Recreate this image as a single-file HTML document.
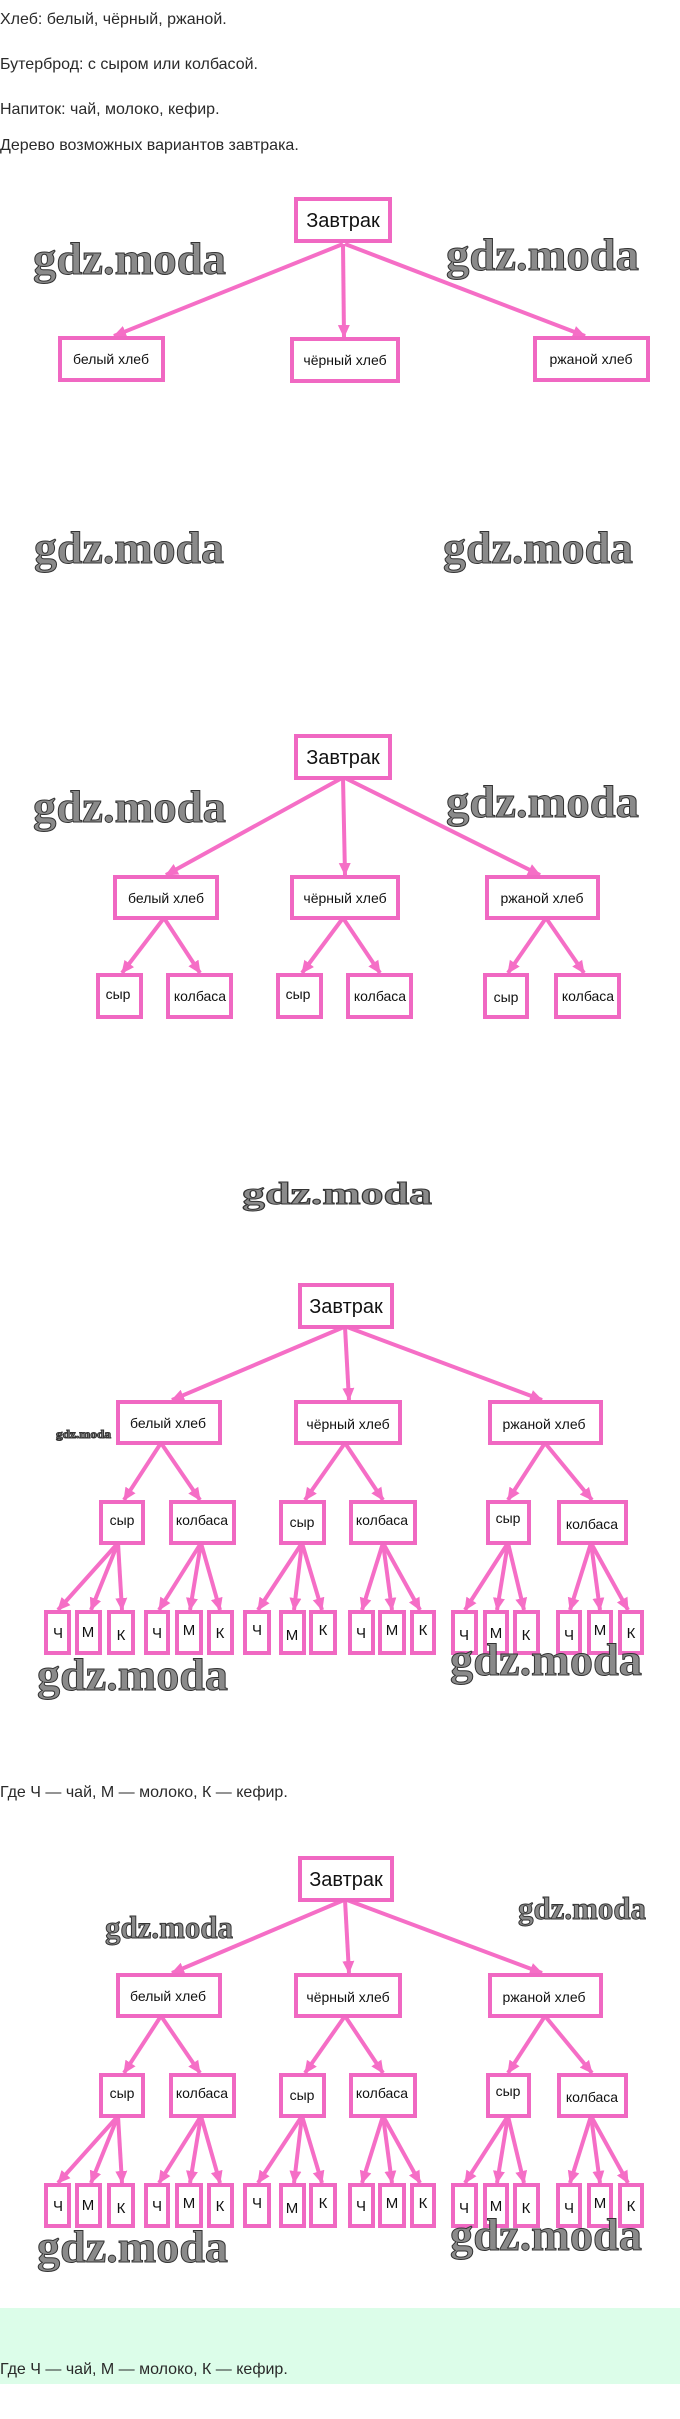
<!DOCTYPE html>
<html><head><meta charset="utf-8"><style>
html,body{margin:0;padding:0;background:#fff;}
svg{display:block;}
.t{font-family:"Liberation Sans","Noto Sans CJK SC",sans-serif;font-size:16px;fill:#2a2a2a;}
.b{font-family:"Liberation Sans","Noto Sans CJK SC",sans-serif;font-size:14px;fill:#111;text-anchor:middle;}
.r{font-family:"Liberation Sans","Noto Sans CJK SC",sans-serif;font-size:20px;fill:#111;text-anchor:middle;}
.l{font-family:"Liberation Sans","Noto Sans CJK SC",sans-serif;font-size:15px;fill:#111;text-anchor:middle;}
.w{font-family:"Liberation Serif",serif;font-weight:bold;fill:#8a8a8a;stroke:#333;stroke-width:1;}
rect.x{fill:#fff;stroke:#f068c2;stroke-width:4;}
line{stroke:#f56ec6;stroke-width:4;marker-end:url(#a);}
</style></head><body>
<svg width="680" height="2419" viewBox="0 0 680 2419" xmlns="http://www.w3.org/2000/svg">
<defs><marker id="a" markerWidth="14" markerHeight="14" refX="12" refY="7" orient="auto" markerUnits="userSpaceOnUse"><path d="M0,1 L13,7 L0,13 z" fill="#f56ec6"/></marker></defs>

<text class="t" x="0" y="24">Хлеб: белый, чёрный, ржаной.</text>
<text class="t" x="0" y="69">Бутерброд: с сыром или колбасой.</text>
<text class="t" x="0" y="114">Напиток: чай, молоко, кефир.</text>
<text class="t" x="0" y="150">Дерево возможных вариантов завтрака.</text>

<!-- Diagram 1 -->
<text class="w" x="33" y="274" font-size="46" textLength="193" lengthAdjust="spacingAndGlyphs">gdz.moda</text>
<text class="w" x="446" y="270" font-size="46" textLength="193" lengthAdjust="spacingAndGlyphs">gdz.moda</text>
<line x1="343" y1="244" x2="114" y2="336"/>
<line x1="343" y1="244" x2="344" y2="337"/>
<line x1="345" y1="244" x2="585" y2="336"/>
<rect class="x" x="296" y="199" width="94" height="42"/><text class="r" x="343" y="227">Завтрак</text>
<rect class="x" x="60" y="338" width="103" height="42"/><text class="b" x="111" y="364">белый хлеб</text>
<rect class="x" x="292" y="339" width="106" height="42"/><text class="b" x="345" y="365">чёрный хлеб</text>
<rect class="x" x="535" y="338" width="113" height="42"/><text class="b" x="591" y="364">ржаной хлеб</text>

<text class="w" x="34" y="563" font-size="46" textLength="190" lengthAdjust="spacingAndGlyphs">gdz.moda</text>
<text class="w" x="443" y="563" font-size="46" textLength="190" lengthAdjust="spacingAndGlyphs">gdz.moda</text>

<!-- Diagram 2 -->
<text class="w" x="33" y="822" font-size="46" textLength="193" lengthAdjust="spacingAndGlyphs">gdz.moda</text>
<text class="w" x="446" y="817" font-size="46" textLength="193" lengthAdjust="spacingAndGlyphs">gdz.moda</text>
<line x1="342" y1="778" x2="166" y2="875"/>
<line x1="343" y1="778" x2="345" y2="875"/>
<line x1="345" y1="778" x2="540" y2="875"/>
<line x1="164" y1="918" x2="122" y2="973"/>
<line x1="164" y1="918" x2="200" y2="973"/>
<line x1="343" y1="918" x2="302" y2="973"/>
<line x1="343" y1="918" x2="380" y2="973"/>
<line x1="546" y1="918" x2="508" y2="973"/>
<line x1="546" y1="918" x2="584" y2="973"/>
<rect class="x" x="296" y="736" width="94" height="42"/><text class="r" x="343" y="764">Завтрак</text>
<rect class="x" x="115" y="877" width="102" height="41"/><text class="b" x="166" y="903">белый хлеб</text>
<rect class="x" x="292" y="877" width="106" height="41"/><text class="b" x="345" y="903">чёрный хлеб</text>
<rect class="x" x="487" y="877" width="111" height="41"/><text class="b" x="542" y="903">ржаной хлеб</text>
<rect class="x" x="98" y="975" width="43" height="42"/><text class="b" x="118" y="999">сыр</text>
<rect class="x" x="168" y="975" width="63" height="42"/><text class="b" x="200" y="1001">колбаса</text>
<rect class="x" x="278" y="975" width="43" height="42"/><text class="b" x="298" y="999">сыр</text>
<rect class="x" x="348" y="975" width="63" height="42"/><text class="b" x="380" y="1001">колбаса</text>
<rect class="x" x="485" y="975" width="42" height="42"/><text class="b" x="506" y="1002">сыр</text>
<rect class="x" x="556" y="975" width="63" height="42"/><text class="b" x="588" y="1001">колбаса</text>

<text class="w" x="242" y="1204" font-size="32" textLength="190" lengthAdjust="spacingAndGlyphs">gdz.moda</text>

<!-- Diagram 3 & 4 shared -->
<g id="d3">
<line x1="344" y1="1327" x2="172" y2="1400"/>
<line x1="345" y1="1327" x2="349" y2="1400"/>
<line x1="347" y1="1327" x2="542" y2="1400"/>
<line x1="161" y1="1443" x2="124" y2="1500"/>
<line x1="161" y1="1443" x2="200" y2="1500"/>
<line x1="345" y1="1443" x2="305" y2="1500"/>
<line x1="345" y1="1443" x2="383" y2="1500"/>
<line x1="545" y1="1443" x2="508" y2="1500"/>
<line x1="545" y1="1443" x2="592" y2="1500"/>
<line x1="118" y1="1543" x2="58" y2="1610"/>
<line x1="118" y1="1543" x2="91" y2="1610"/>
<line x1="118" y1="1543" x2="122" y2="1610"/>
<line x1="201" y1="1543" x2="159" y2="1610"/>
<line x1="201" y1="1543" x2="190" y2="1610"/>
<line x1="201" y1="1543" x2="220" y2="1610"/>
<line x1="302" y1="1543" x2="258" y2="1610"/>
<line x1="302" y1="1543" x2="294" y2="1610"/>
<line x1="302" y1="1543" x2="322" y2="1610"/>
<line x1="383" y1="1543" x2="362" y2="1610"/>
<line x1="383" y1="1543" x2="392" y2="1610"/>
<line x1="383" y1="1543" x2="420" y2="1610"/>
<line x1="508" y1="1543" x2="465" y2="1610"/>
<line x1="508" y1="1543" x2="497" y2="1610"/>
<line x1="508" y1="1543" x2="524" y2="1610"/>
<line x1="591" y1="1543" x2="570" y2="1610"/>
<line x1="591" y1="1543" x2="600" y2="1610"/>
<line x1="591" y1="1543" x2="628" y2="1610"/>
<rect class="x" x="300" y="1285" width="92" height="42"/><text class="r" x="346" y="1313">Завтрак</text>
<rect class="x" x="118" y="1402" width="102" height="41"/><text class="b" x="168" y="1428">белый хлеб</text>
<rect class="x" x="296" y="1402" width="104" height="41"/><text class="b" x="348" y="1429">чёрный хлеб</text>
<rect class="x" x="490" y="1402" width="111" height="41"/><text class="b" x="544" y="1429">ржаной хлеб</text>
<rect class="x" x="101" y="1502" width="42" height="41"/><text class="b" x="122" y="1525">сыр</text>
<rect class="x" x="171" y="1502" width="63" height="41"/><text class="b" x="202" y="1525">колбаса</text>
<rect class="x" x="281" y="1502" width="43" height="41"/><text class="b" x="302" y="1527">сыр</text>
<rect class="x" x="351" y="1502" width="64" height="41"/><text class="b" x="382" y="1525">колбаса</text>
<rect class="x" x="488" y="1502" width="41" height="41"/><text class="b" x="508" y="1523">сыр</text>
<rect class="x" x="559" y="1502" width="67" height="41"/><text class="b" x="592" y="1529">колбаса</text>
<rect class="x" x="46" y="1612" width="23" height="41"/><text class="l" x="58" y="1638">Ч</text>
<rect class="x" x="77" y="1612" width="23" height="41"/><text class="l" x="88" y="1637">М</text>
<rect class="x" x="109" y="1612" width="24" height="41"/><text class="l" x="121" y="1640">К</text>
<rect class="x" x="146" y="1612" width="22" height="41"/><text class="l" x="157" y="1638">Ч</text>
<rect class="x" x="177" y="1612" width="24" height="41"/><text class="l" x="189" y="1635">М</text>
<rect class="x" x="209" y="1612" width="23" height="41"/><text class="l" x="220" y="1638">К</text>
<rect class="x" x="245" y="1612" width="24" height="41"/><text class="l" x="257" y="1635">Ч</text>
<rect class="x" x="281" y="1612" width="23" height="41"/><text class="l" x="292" y="1640">М</text>
<rect class="x" x="311" y="1612" width="24" height="41"/><text class="l" x="323" y="1635">К</text>
<rect class="x" x="350" y="1612" width="23" height="41"/><text class="l" x="361" y="1638">Ч</text>
<rect class="x" x="380" y="1612" width="24" height="41"/><text class="l" x="392" y="1635">М</text>
<rect class="x" x="412" y="1612" width="22" height="41"/><text class="l" x="423" y="1635">К</text>
<rect class="x" x="453" y="1612" width="23" height="41"/><text class="l" x="464" y="1640">Ч</text>
<rect class="x" x="485" y="1612" width="22" height="41"/><text class="l" x="496" y="1638">М</text>
<rect class="x" x="515" y="1612" width="23" height="41"/><text class="l" x="526" y="1640">К</text>
<rect class="x" x="558" y="1612" width="22" height="41"/><text class="l" x="569" y="1640">Ч</text>
<rect class="x" x="589" y="1612" width="22" height="41"/><text class="l" x="600" y="1635">М</text>
<rect class="x" x="620" y="1612" width="22" height="41"/><text class="l" x="631" y="1638">К</text>
</g>
<text class="w" x="56" y="1438" font-size="12" stroke="none" textLength="55" lengthAdjust="spacingAndGlyphs">gdz.moda</text>
<text class="w" x="37" y="1690" font-size="46" textLength="191" lengthAdjust="spacingAndGlyphs">gdz.moda</text>
<text class="w" x="450" y="1675" font-size="46" textLength="192" lengthAdjust="spacingAndGlyphs">gdz.moda</text>

<text class="t" x="0" y="1797">Где Ч — чай, М — молоко, К — кефир.</text>

<g transform="translate(0,573)">
<line x1="344" y1="1327" x2="172" y2="1400"/>
<line x1="345" y1="1327" x2="349" y2="1400"/>
<line x1="347" y1="1327" x2="542" y2="1400"/>
<line x1="161" y1="1443" x2="124" y2="1500"/>
<line x1="161" y1="1443" x2="200" y2="1500"/>
<line x1="345" y1="1443" x2="305" y2="1500"/>
<line x1="345" y1="1443" x2="383" y2="1500"/>
<line x1="545" y1="1443" x2="508" y2="1500"/>
<line x1="545" y1="1443" x2="592" y2="1500"/>
<line x1="118" y1="1543" x2="58" y2="1610"/>
<line x1="118" y1="1543" x2="91" y2="1610"/>
<line x1="118" y1="1543" x2="122" y2="1610"/>
<line x1="201" y1="1543" x2="159" y2="1610"/>
<line x1="201" y1="1543" x2="190" y2="1610"/>
<line x1="201" y1="1543" x2="220" y2="1610"/>
<line x1="302" y1="1543" x2="258" y2="1610"/>
<line x1="302" y1="1543" x2="294" y2="1610"/>
<line x1="302" y1="1543" x2="322" y2="1610"/>
<line x1="383" y1="1543" x2="362" y2="1610"/>
<line x1="383" y1="1543" x2="392" y2="1610"/>
<line x1="383" y1="1543" x2="420" y2="1610"/>
<line x1="508" y1="1543" x2="465" y2="1610"/>
<line x1="508" y1="1543" x2="497" y2="1610"/>
<line x1="508" y1="1543" x2="524" y2="1610"/>
<line x1="591" y1="1543" x2="570" y2="1610"/>
<line x1="591" y1="1543" x2="600" y2="1610"/>
<line x1="591" y1="1543" x2="628" y2="1610"/>
<rect class="x" x="300" y="1285" width="92" height="42"/><text class="r" x="346" y="1313">Завтрак</text>
<rect class="x" x="118" y="1402" width="102" height="41"/><text class="b" x="168" y="1428">белый хлеб</text>
<rect class="x" x="296" y="1402" width="104" height="41"/><text class="b" x="348" y="1429">чёрный хлеб</text>
<rect class="x" x="490" y="1402" width="111" height="41"/><text class="b" x="544" y="1429">ржаной хлеб</text>
<rect class="x" x="101" y="1502" width="42" height="41"/><text class="b" x="122" y="1525">сыр</text>
<rect class="x" x="171" y="1502" width="63" height="41"/><text class="b" x="202" y="1525">колбаса</text>
<rect class="x" x="281" y="1502" width="43" height="41"/><text class="b" x="302" y="1527">сыр</text>
<rect class="x" x="351" y="1502" width="64" height="41"/><text class="b" x="382" y="1525">колбаса</text>
<rect class="x" x="488" y="1502" width="41" height="41"/><text class="b" x="508" y="1523">сыр</text>
<rect class="x" x="559" y="1502" width="67" height="41"/><text class="b" x="592" y="1529">колбаса</text>
<rect class="x" x="46" y="1612" width="23" height="41"/><text class="l" x="58" y="1638">Ч</text>
<rect class="x" x="77" y="1612" width="23" height="41"/><text class="l" x="88" y="1637">М</text>
<rect class="x" x="109" y="1612" width="24" height="41"/><text class="l" x="121" y="1640">К</text>
<rect class="x" x="146" y="1612" width="22" height="41"/><text class="l" x="157" y="1638">Ч</text>
<rect class="x" x="177" y="1612" width="24" height="41"/><text class="l" x="189" y="1635">М</text>
<rect class="x" x="209" y="1612" width="23" height="41"/><text class="l" x="220" y="1638">К</text>
<rect class="x" x="245" y="1612" width="24" height="41"/><text class="l" x="257" y="1635">Ч</text>
<rect class="x" x="281" y="1612" width="23" height="41"/><text class="l" x="292" y="1640">М</text>
<rect class="x" x="311" y="1612" width="24" height="41"/><text class="l" x="323" y="1635">К</text>
<rect class="x" x="350" y="1612" width="23" height="41"/><text class="l" x="361" y="1638">Ч</text>
<rect class="x" x="380" y="1612" width="24" height="41"/><text class="l" x="392" y="1635">М</text>
<rect class="x" x="412" y="1612" width="22" height="41"/><text class="l" x="423" y="1635">К</text>
<rect class="x" x="453" y="1612" width="23" height="41"/><text class="l" x="464" y="1640">Ч</text>
<rect class="x" x="485" y="1612" width="22" height="41"/><text class="l" x="496" y="1638">М</text>
<rect class="x" x="515" y="1612" width="23" height="41"/><text class="l" x="526" y="1640">К</text>
<rect class="x" x="558" y="1612" width="22" height="41"/><text class="l" x="569" y="1640">Ч</text>
<rect class="x" x="589" y="1612" width="22" height="41"/><text class="l" x="600" y="1635">М</text>
<rect class="x" x="620" y="1612" width="22" height="41"/><text class="l" x="631" y="1638">К</text>
</g>
<text class="w" x="105" y="1938" font-size="32" textLength="128" lengthAdjust="spacingAndGlyphs">gdz.moda</text>
<text class="w" x="518" y="1919" font-size="32" textLength="128" lengthAdjust="spacingAndGlyphs">gdz.moda</text>
<text class="w" x="37" y="2262" font-size="46" textLength="191" lengthAdjust="spacingAndGlyphs">gdz.moda</text>
<text class="w" x="450" y="2250" font-size="46" textLength="192" lengthAdjust="spacingAndGlyphs">gdz.moda</text>

<rect x="0" y="2308" width="680" height="76" fill="#dcfde9"/>
<text class="t" x="0" y="2374">Где Ч — чай, М — молоко, К — кефир.</text>
</svg>
</body></html>
